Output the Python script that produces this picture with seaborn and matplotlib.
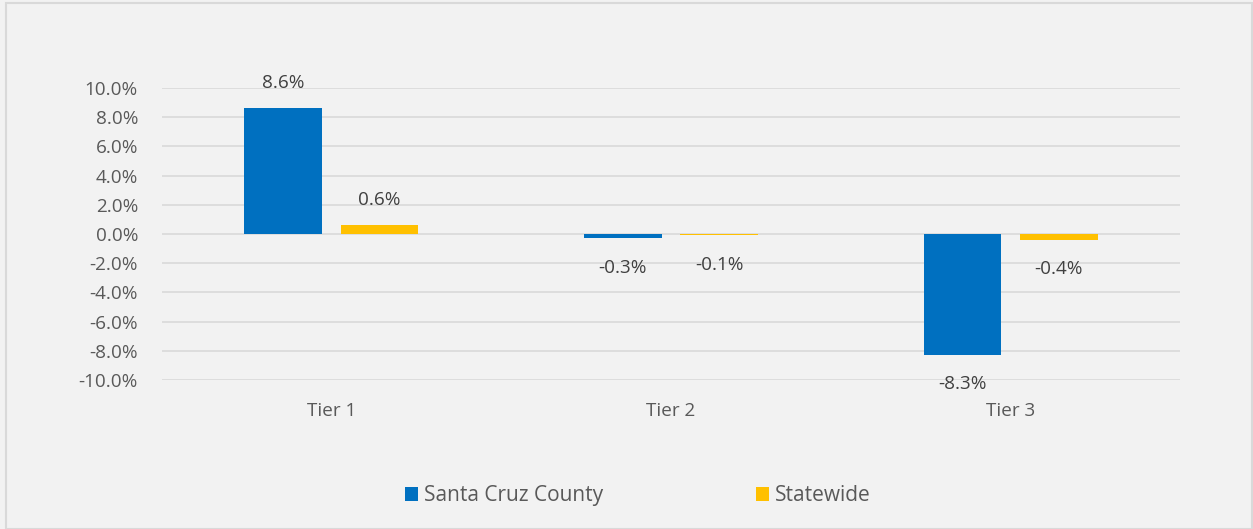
import matplotlib
matplotlib.use('Agg')
import pandas as pd
import matplotlib.pyplot as plt
import seaborn as sns
from matplotlib.patches import Rectangle
from matplotlib.ticker import FuncFormatter

# chart data
tiers = ['Tier 1', 'Tier 2', 'Tier 3']
santa_cruz = [8.6, -0.3, -8.3]
statewide = [0.6, -0.1, -0.4]
series_names = ['Santa Cruz County', 'Statewide']
colors = ['#0070C0', '#FFC000']

df = pd.DataFrame({
    'Tier': tiers * 2,
    'Series': [series_names[0]] * 3 + [series_names[1]] * 3,
    'Value': santa_cruz + statewide,
})

sns.set_style('white')
plt.rcParams['font.family'] = ['Open Sans', 'DejaVu Sans']
fs = 13.6

fig = plt.figure(figsize=(12.53, 5.29), dpi=100, facecolor='#F2F2F2')
ax = fig.add_axes([0.129, 0.2817, 0.813, 0.5519])
ax.set_facecolor('#F2F2F2')

sns.barplot(data=df, x='Tier', y='Value', hue='Series', palette=colors,
            width=0.566, gap=0.19, ax=ax, saturation=1, legend=True,
            linewidth=0, zorder=3)

ax.set_ylim(-10, 10)
ax.set_yticks(range(-10, 11, 2))
ax.yaxis.set_major_formatter(FuncFormatter(lambda v, p: f'{v:.1f}%'))
ax.grid(axis='y', color='#D9D9D9', linewidth=1.2, zorder=0)
ax.set_xlabel('')
ax.set_ylabel('')
for s in ax.spines.values():
    s.set_visible(False)
ax.tick_params(axis='both', length=0, labelsize=fs, labelcolor='#595959')
ax.tick_params(axis='y', pad=17)
ax.tick_params(axis='x', pad=16)

# data labels
for cont in ax.containers:
    for bar in cont:
        h = bar.get_height()
        x = bar.get_x() + bar.get_width() / 2
        off = 18 if h >= 0 else -21
        ax.annotate(f'{h:.1f}%', (x, h), xytext=(0, off), textcoords='offset points',
                    ha='center', va='center', fontsize=fs, color='#404040')

ax.legend(loc='center', bbox_to_anchor=(0.4676, -0.397), ncol=2, frameon=False,
          fontsize=15, labelcolor='#595959', handlelength=0.62, handleheight=0.62,
          handletextpad=0.3, columnspacing=7.3)

fig.patches.append(Rectangle((6 / 1253, 0), 1 - 7 / 1253, 1 - 3 / 529,
                             transform=fig.transFigure, fill=False,
                             edgecolor='#D9D9D9', linewidth=1.5))

fig.savefig('out.png', dpi=100, facecolor=fig.get_facecolor())
